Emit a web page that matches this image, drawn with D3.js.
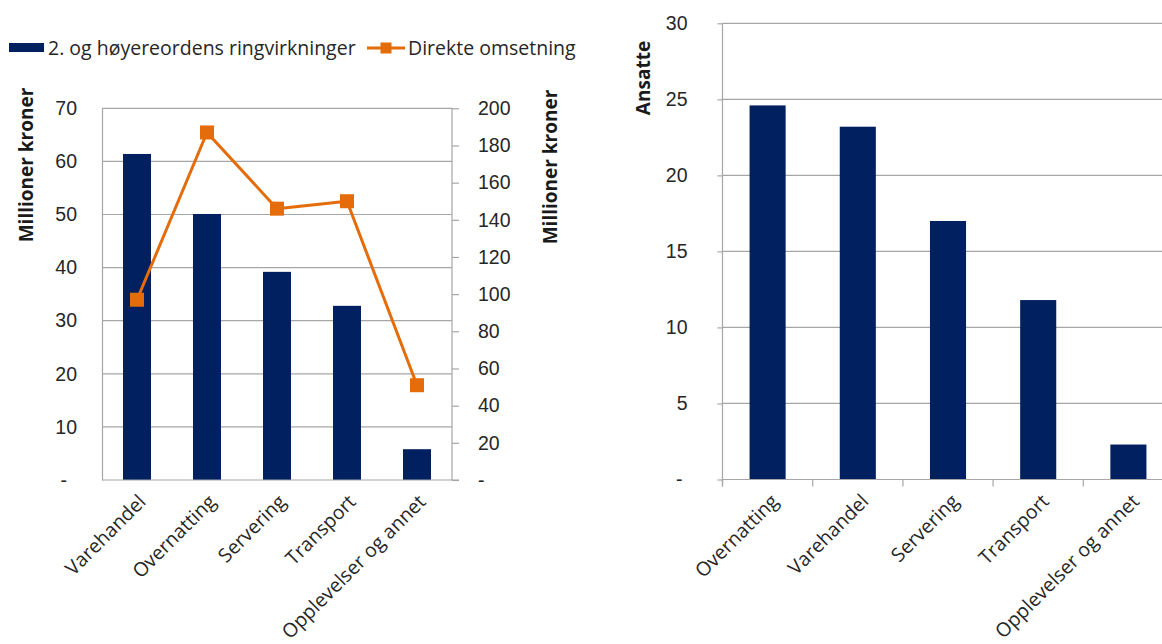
<!DOCTYPE html>
<html>
<head>
<meta charset="utf-8">
<script src="https://cdn.jsdelivr.net/npm/d3@7"></script>
<style>
  html, body { margin: 0; padding: 0; background: #fff; }
  svg { display: block; font-family: "Open Sans", "Noto Sans", sans-serif; }
  .tick text { fill: #262626; font-size: 19.5px; }
  .ttl { fill: #1a1a1a; font-size: 19px; font-weight: bold; }
  .leg { fill: #262626; font-size: 19.5px; }
</style>
</head>
<body>
<svg id="chart" width="1162" height="644"></svg>
<script>
// Left panel: turnover effects by sector
const leftCategories = ["Varehandel", "Overnatting", "Servering", "Transport", "Opplevelser og annet"];
const ringEffects = [61.4, 50.1, 39.2, 32.8, 5.8];        // 2. og høyereordens ringvirkninger (left axis)
const directTurnover = [97, 187, 146, 150, 51];          // Direkte omsetning (right axis)
const leftTicks = [0, 10, 20, 30, 40, 50, 60, 70];
const rightTicks = [0, 20, 40, 60, 80, 100, 120, 140, 160, 180, 200];

// Right panel: employees by sector
const rightCategories = ["Overnatting", "Varehandel", "Servering", "Transport", "Opplevelser og annet"];
const employees = [24.6, 23.2, 17.0, 11.8, 2.3];
const employeeTicks = [0, 5, 10, 15, 20, 25, 30];

const NAVY = "#002060";
const ORANGE = "#E46C0A";
const GRID = "#A6A6A6";

const svg = d3.select("#chart");
const fmt = d => d === 0 ? "-" : String(d);

// ---------- left panel ----------
const L = { left: 102, right: 452, top: 108.3, bottom: 480 };
const xL = d3.scaleBand().domain(leftCategories).range([L.left, L.right]).paddingInner(0.6).paddingOuter(0.3);
const yL = d3.scaleLinear().domain([0, 70]).range([L.bottom, L.top]);
const yR = d3.scaleLinear().domain([0, 200]).range([L.bottom, L.top]);

const gL = svg.append("g");
// gridlines
gL.append("g").selectAll("line").data(leftTicks.filter(t => t > 0)).join("line")
  .attr("x1", L.left).attr("x2", L.right)
  .attr("y1", d => yL(d)).attr("y2", d => yL(d))
  .attr("stroke", GRID).attr("stroke-width", 1.2);

// bars
gL.append("g").selectAll("rect").data(ringEffects).join("rect")
  .attr("x", (d, i) => xL(leftCategories[i]))
  .attr("width", xL.bandwidth())
  .attr("y", d => yL(d))
  .attr("height", d => yL(0) - yL(d))
  .attr("fill", NAVY);

// left value axis
const axL = gL.append("g").attr("transform", `translate(${L.left},0)`)
  .call(d3.axisLeft(yL).tickValues(leftTicks).tickFormat(fmt).tickSize(0).tickPadding(25));
axL.select(".domain").attr("stroke", GRID).attr("stroke-width", 1.2);
axL.selectAll(".tick text").filter(d => d === 0).attr("dx", -10);

// right value axis
const axR = gL.append("g").attr("transform", `translate(${L.right},0)`)
  .call(d3.axisRight(yR).tickValues(rightTicks).tickFormat(fmt).tickSize(7).tickPadding(19));
axR.select(".domain").attr("stroke", GRID).attr("stroke-width", 1.2).attr("d", `M0,${L.top}V${L.bottom}`);
axR.selectAll(".tick line").attr("stroke", GRID).attr("stroke-width", 1.2);

// category axis
const axXL = gL.append("g").attr("transform", `translate(0,${L.bottom})`)
  .call(d3.axisBottom(xL).tickSize(0).tickFormat(""));
axXL.select(".domain").attr("stroke", GRID).attr("stroke-width", 1.2).attr("d", `M${L.left},0H${L.right + 7}`);
gL.append("g").selectAll("text").data(leftCategories).join("text")
  .attr("class", "leg")
  .attr("text-anchor", "end")
  .attr("transform", d => `translate(${xL(d) + xL.bandwidth() / 2 + 10},${L.bottom + 23}) rotate(-45)`)
  .text(d => d);

// direct turnover line
const line = d3.line()
  .x((d, i) => xL(leftCategories[i]) + xL.bandwidth() / 2)
  .y(d => yR(d));
gL.append("path").datum(directTurnover)
  .attr("d", line).attr("fill", "none")
  .attr("stroke", ORANGE).attr("stroke-width", 3).attr("stroke-linejoin", "round");
const MK = 14;
gL.append("g").selectAll("rect").data(directTurnover).join("rect")
  .attr("x", (d, i) => xL(leftCategories[i]) + xL.bandwidth() / 2 - MK / 2)
  .attr("y", d => yR(d) - MK / 2)
  .attr("width", MK).attr("height", MK)
  .attr("fill", ORANGE);

// axis titles
svg.append("text").attr("class", "ttl").attr("text-anchor", "middle")
  .attr("transform", "translate(26,165) rotate(-90)").attr("dy", "0.35em").text("Millioner kroner");
svg.append("text").attr("class", "ttl").attr("text-anchor", "middle")
  .attr("transform", "translate(550,167) rotate(-90)").attr("dy", "0.35em").text("Millioner kroner");

// legend
const leg = svg.append("g");
leg.append("rect").attr("x", 9).attr("y", 43).attr("width", 35).attr("height", 9).attr("fill", NAVY);
leg.append("text").attr("class", "leg").attr("x", 48).attr("y", 48).attr("dy", "0.35em")
  .text("2. og høyereordens ringvirkninger");
leg.append("line").attr("x1", 367).attr("x2", 405).attr("y1", 48).attr("y2", 48)
  .attr("stroke", ORANGE).attr("stroke-width", 3);
leg.append("rect").attr("x", 380.5).attr("y", 42.5).attr("width", 11).attr("height", 11).attr("fill", ORANGE);
leg.append("text").attr("class", "leg").attr("x", 408).attr("y", 48).attr("dy", "0.35em")
  .text("Direkte omsetning");

// ---------- right panel ----------
const R = { left: 722.5, step: 90.2, top: 23.3, bottom: 479.5 };
const xA = d3.scaleBand().domain(rightCategories)
  .range([R.left, R.left + R.step * rightCategories.length]).paddingInner(0.6).paddingOuter(0.3);
const yA = d3.scaleLinear().domain([0, 30]).range([R.bottom, R.top]);

const gR = svg.append("g");
gR.append("g").selectAll("line").data(employeeTicks.filter(t => t > 0)).join("line")
  .attr("x1", R.left).attr("x2", 1162)
  .attr("y1", d => yA(d)).attr("y2", d => yA(d))
  .attr("stroke", GRID).attr("stroke-width", 1.2);

gR.append("g").selectAll("rect").data(employees).join("rect")
  .attr("x", (d, i) => xA(rightCategories[i]))
  .attr("width", xA.bandwidth())
  .attr("y", d => yA(d))
  .attr("height", d => yA(0) - yA(d))
  .attr("fill", NAVY);

const axA = gR.append("g").attr("transform", `translate(${R.left},0)`)
  .call(d3.axisLeft(yA).tickValues(employeeTicks).tickFormat(fmt).tickSize(5).tickPadding(30));
axA.select(".domain").attr("stroke", GRID).attr("stroke-width", 1.2).attr("d", `M0,${R.top}V${R.bottom + 7}`);
axA.selectAll(".tick line").attr("stroke", GRID).attr("stroke-width", 1.2);
axA.selectAll(".tick text").filter(d => d === 0).attr("dx", -5);

// category axis with tick marks between categories
gR.append("line").attr("x1", R.left).attr("x2", 1162).attr("y1", R.bottom).attr("y2", R.bottom)
  .attr("stroke", GRID).attr("stroke-width", 1.2);
gR.append("g").selectAll("line").data(rightCategories).join("line")
  .attr("x1", d => xA(d) - xA.step() * 0.3).attr("x2", d => xA(d) - xA.step() * 0.3)
  .attr("y1", R.bottom).attr("y2", R.bottom + 7)
  .attr("stroke", GRID).attr("stroke-width", 1.2);
gR.append("g").selectAll("text").data(rightCategories).join("text")
  .attr("class", "leg")
  .attr("text-anchor", "end")
  .attr("transform", d => `translate(${xA(d) + xA.bandwidth() / 2 + 12},${R.bottom + 23}) rotate(-45)`)
  .text(d => d);

svg.append("text").attr("class", "ttl").attr("text-anchor", "middle")
  .attr("transform", "translate(643,78) rotate(-90)").attr("dy", "0.35em").text("Ansatte");
</script>
</body>
</html>
